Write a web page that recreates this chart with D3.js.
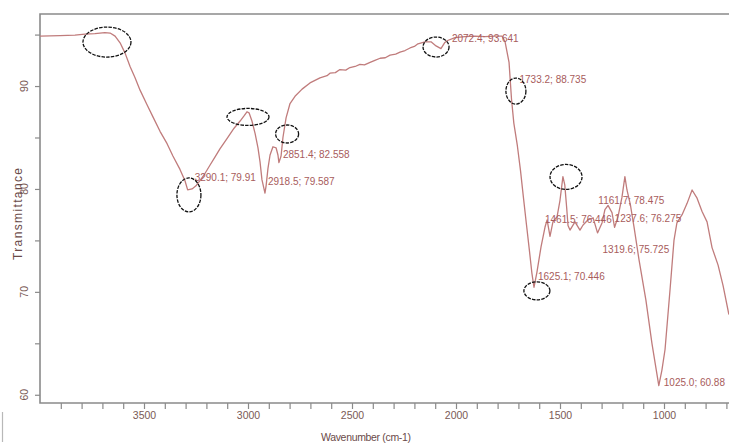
<!DOCTYPE html>
<html>
<head>
<meta charset="utf-8">
<script src="https://cdn.jsdelivr.net/npm/d3@7"></script>
<style>
  html, body { margin: 0; padding: 0; background: #ffffff; }
  svg { display: block; }
</style>
</head>
<body>
<svg id="chart" width="729" height="447"></svg>
<script>
// FTIR spectrum: wavenumber (cm-1) and % transmittance
const wavenumber = [
  4000, 3904, 3832, 3784, 3736, 3688, 3663, 3639, 3615, 3591, 3567, 3543, 3519, 3486,
  3457, 3423, 3389, 3361, 3327, 3303, 3290.1, 3269, 3250, 3231, 3207, 3183, 3159, 3135,
  3101, 3067, 3038, 3019, 3005, 2995, 2981, 2966, 2952, 2942, 2933, 2918.5, 2913, 2904,
  2894, 2880, 2865, 2856, 2851.4, 2841, 2832, 2817, 2798, 2774, 2740, 2702, 2654, 2620,
  2606, 2580, 2558, 2530, 2510, 2485, 2462, 2440, 2413, 2390, 2365, 2340, 2317, 2290,
  2269, 2245, 2221, 2200, 2183, 2149, 2120, 2096, 2072.4, 2055, 2043, 2005, 1957, 1909,
  1861, 1812, 1779, 1764, 1745, 1733.2, 1722, 1705, 1690, 1676, 1661, 1647, 1635, 1625.1,
  1611, 1591, 1572, 1562, 1548, 1534, 1514, 1500, 1486, 1477, 1468, 1461.5, 1452, 1428,
  1404, 1389, 1365, 1341, 1319.6, 1298, 1284, 1269, 1250, 1237.6, 1221, 1202, 1188, 1178,
  1161.7, 1144, 1120, 1087, 1058, 1025.0, 1010, 995, 971, 952, 938, 913, 889, 865, 841,
  817, 793, 769, 740, 716, 688
];
const transmittance = [
  94.85, 94.9, 94.95, 95.05, 95.1, 95.2, 95.15, 94.85, 94.2, 93.2, 91.9, 90.8, 89.6, 88.2,
  87.0, 85.6, 84.4, 83.2, 81.9, 80.8, 79.91, 80.0, 80.3, 80.8, 81.5, 82.3, 83.1, 83.9,
  84.9, 85.9, 86.6, 87.1, 87.5, 87.4, 86.6, 85.4, 84.0, 82.6, 80.9, 79.587, 80.3, 82.0,
  83.3, 84.1, 84.0, 83.3, 82.558, 83.2, 85.0, 86.9, 88.3, 89.0, 89.7, 90.3, 90.8, 91.0,
  91.25, 91.3, 91.6, 91.55, 91.8, 91.9, 92.1, 92.05, 92.3, 92.5, 92.7, 92.75, 93.0, 93.1,
  93.3, 93.45, 93.7, 93.85, 94.1, 94.3, 94.3, 93.9, 93.641, 94.2, 94.4, 94.7, 94.8, 94.85,
  94.8, 94.85, 94.85, 94.3, 92.3, 88.735, 86.4, 84.2, 81.8, 79.2, 76.5, 74.0, 71.8, 70.446,
  71.9, 74.4, 76.3, 77.0, 75.4, 76.8, 77.3, 78.9, 81.2, 80.4, 78.2, 76.446, 76.0, 76.8,
  76.0, 76.5, 77.0, 77.2, 75.725, 76.7, 78.0, 78.4, 77.7, 76.275, 77.3, 79.2, 81.2, 79.9,
  78.475, 76.3, 73.1, 69.2, 65.0, 60.88, 62.4, 64.4, 70.2, 75.0, 76.7, 77.5, 78.6, 79.9, 79.1,
  77.8, 76.8, 74.3, 72.6, 70.6, 67.8
];

// Labelled bands
const peakWavenumbers = [3290.1, 2918.5, 2851.4, 2072.4, 1733.2, 1625.1, 1461.5, 1319.6, 1237.6, 1161.7, 1025.0];
const peakValues      = [79.91, 79.587, 82.558, 93.641, 88.735, 70.446, 76.446, 75.725, 76.275, 78.475, 60.88];
const peakValueText   = ["79.91", "79.587", "82.558", "93.641", "88.735", "70.446", "76.446", "75.725", "76.275", "78.475", "60.88"];
// label placement relative to the band position (px)
const labelOffsets = [[7, -12], [3, -11], [4, -8], [11, -10], [8, -19], [4, -10], [-23, -6], [5, 17], [0, -8], [-32, -4], [5, -3]];

// Circled regions: centre (wavenumber, transmittance) and radii in px
const circleWavenumbers = [3678, 3284, 3000, 2812, 2096, 1712, 1611, 1471];
const circleValues      = [94.27, 79.42, 87.0, 85.34, 93.79, 89.51, 70.1, 81.17];
const circleRadii       = [[24, 15], [12, 17], [21, 8.5], [11.5, 9], [13, 10], [10, 13], [13, 9], [16, 12.5]];

// Axis ticks
const xLabelTicks = [3500, 3000, 2500, 2000, 1500, 1000];
const xMinorTicks = d3.range(3900, 650, -100);
const yLabelTicks = [60, 70, 80, 90];
const yMinorTicks = [60, 65, 70, 75, 80, 85, 90, 95];

const svg = d3.select("#chart");
const plotLeft = 40, plotTop = 14, plotBottom = 403;

const x = d3.scaleLinear().domain([4000, 650]).range([plotLeft, plotLeft + 3350 * 0.208]);
const y = d3.scaleLinear().domain([59.2, 97]).range([plotBottom, plotTop]);

const frameColor = "#8a8a8a";
const tickTextColor = "#7a5a55";
const lineColor = "#c07c7c";
const labelColor = "#a85c5c";

svg.append("defs").append("clipPath").attr("id", "plot-clip")
  .append("rect").attr("x", plotLeft).attr("y", plotTop)
  .attr("width", 729 - plotLeft).attr("height", plotBottom - plotTop);

// x axis with a tick every 100 cm-1
const xAxis = svg.append("g").attr("transform", `translate(0,${plotBottom})`)
  .call(d3.axisBottom(x).tickValues(xMinorTicks).tickSize(6)
    .tickFormat(d => xLabelTicks.includes(d) ? d : ""));
xAxis.select(".domain").remove();
xAxis.selectAll("line").attr("stroke", frameColor).attr("stroke-width", 1.2);
xAxis.selectAll("text")
  .attr("fill", tickTextColor)
  .attr("font-family", "Liberation Sans, Arial, sans-serif")
  .attr("font-size", 10.5)
  .attr("dy", "0.9em")
  .attr("y", 7);

// y axis
const yAxis = svg.append("g").attr("transform", `translate(${plotLeft},0)`)
  .call(d3.axisLeft(y).tickValues(yMinorTicks).tickSize(5).tickFormat(""));
yAxis.select(".domain").remove();
yAxis.selectAll("line").attr("stroke", frameColor).attr("stroke-width", 1.2);

svg.append("g").selectAll("text").data(yLabelTicks).join("text")
  .attr("transform", d => `translate(28,${y(d)}) rotate(-90)`)
  .attr("text-anchor", "middle")
  .attr("fill", tickTextColor)
  .attr("font-family", "Liberation Sans, Arial, sans-serif")
  .attr("font-size", 10.5)
  .text(d => d);

// frame
svg.append("path")
  .attr("d", `M729,${plotTop}H${plotLeft}V${plotBottom}H729`)
  .attr("fill", "none").attr("stroke", frameColor).attr("stroke-width", 1.6);

// small mark at the lower-left corner
svg.append("line").attr("x1", 2.5).attr("x2", 2.5).attr("y1", 412).attr("y2", 442)
  .attr("stroke", "#b8b8b8").attr("stroke-width", 1.2);

// axis titles
svg.append("text")
  .attr("x", 366).attr("y", 441)
  .attr("text-anchor", "middle")
  .attr("fill", "#6a4a48")
  .attr("font-family", "Liberation Sans, Arial, sans-serif")
  .attr("font-size", 10.5)
  .attr("textLength", 90)
  .text("Wavenumber (cm-1)");

svg.append("text")
  .attr("transform", "translate(22,214) rotate(-90)")
  .attr("text-anchor", "middle")
  .attr("fill", "#6a4a48")
  .attr("font-family", "Liberation Sans, Arial, sans-serif")
  .attr("font-size", 12)
  .attr("textLength", 92)
  .text("Transmittance");

// spectrum
const spectrum = wavenumber.map((w, i) => [w, transmittance[i]]);
svg.append("path")
  .datum(spectrum)
  .attr("clip-path", "url(#plot-clip)")
  .attr("fill", "none")
  .attr("stroke", lineColor)
  .attr("stroke-width", 1.3)
  .attr("stroke-linejoin", "round")
  .attr("d", d3.line().x(d => x(d[0])).y(d => y(d[1])));

// band labels
svg.append("g").selectAll("text").data(peakWavenumbers).join("text")
  .attr("x", (w, i) => x(w) + labelOffsets[i][0])
  .attr("y", (w, i) => y(peakValues[i]) + labelOffsets[i][1] + 3)
  .attr("fill", labelColor)
  .attr("font-family", "Liberation Sans, Arial, sans-serif")
  .attr("font-size", 10)
  .text((w, i) => `${w.toFixed(1)}; ${peakValueText[i]}`);

// circled regions
svg.append("g").selectAll("ellipse").data(circleWavenumbers).join("ellipse")
  .attr("cx", w => x(w))
  .attr("cy", (w, i) => y(circleValues[i]))
  .attr("rx", (w, i) => circleRadii[i][0])
  .attr("ry", (w, i) => circleRadii[i][1])
  .attr("fill", "none")
  .attr("stroke", "#111")
  .attr("stroke-width", 1.3)
  .attr("stroke-dasharray", "3.5,1.2");
</script>
</body>
</html>
